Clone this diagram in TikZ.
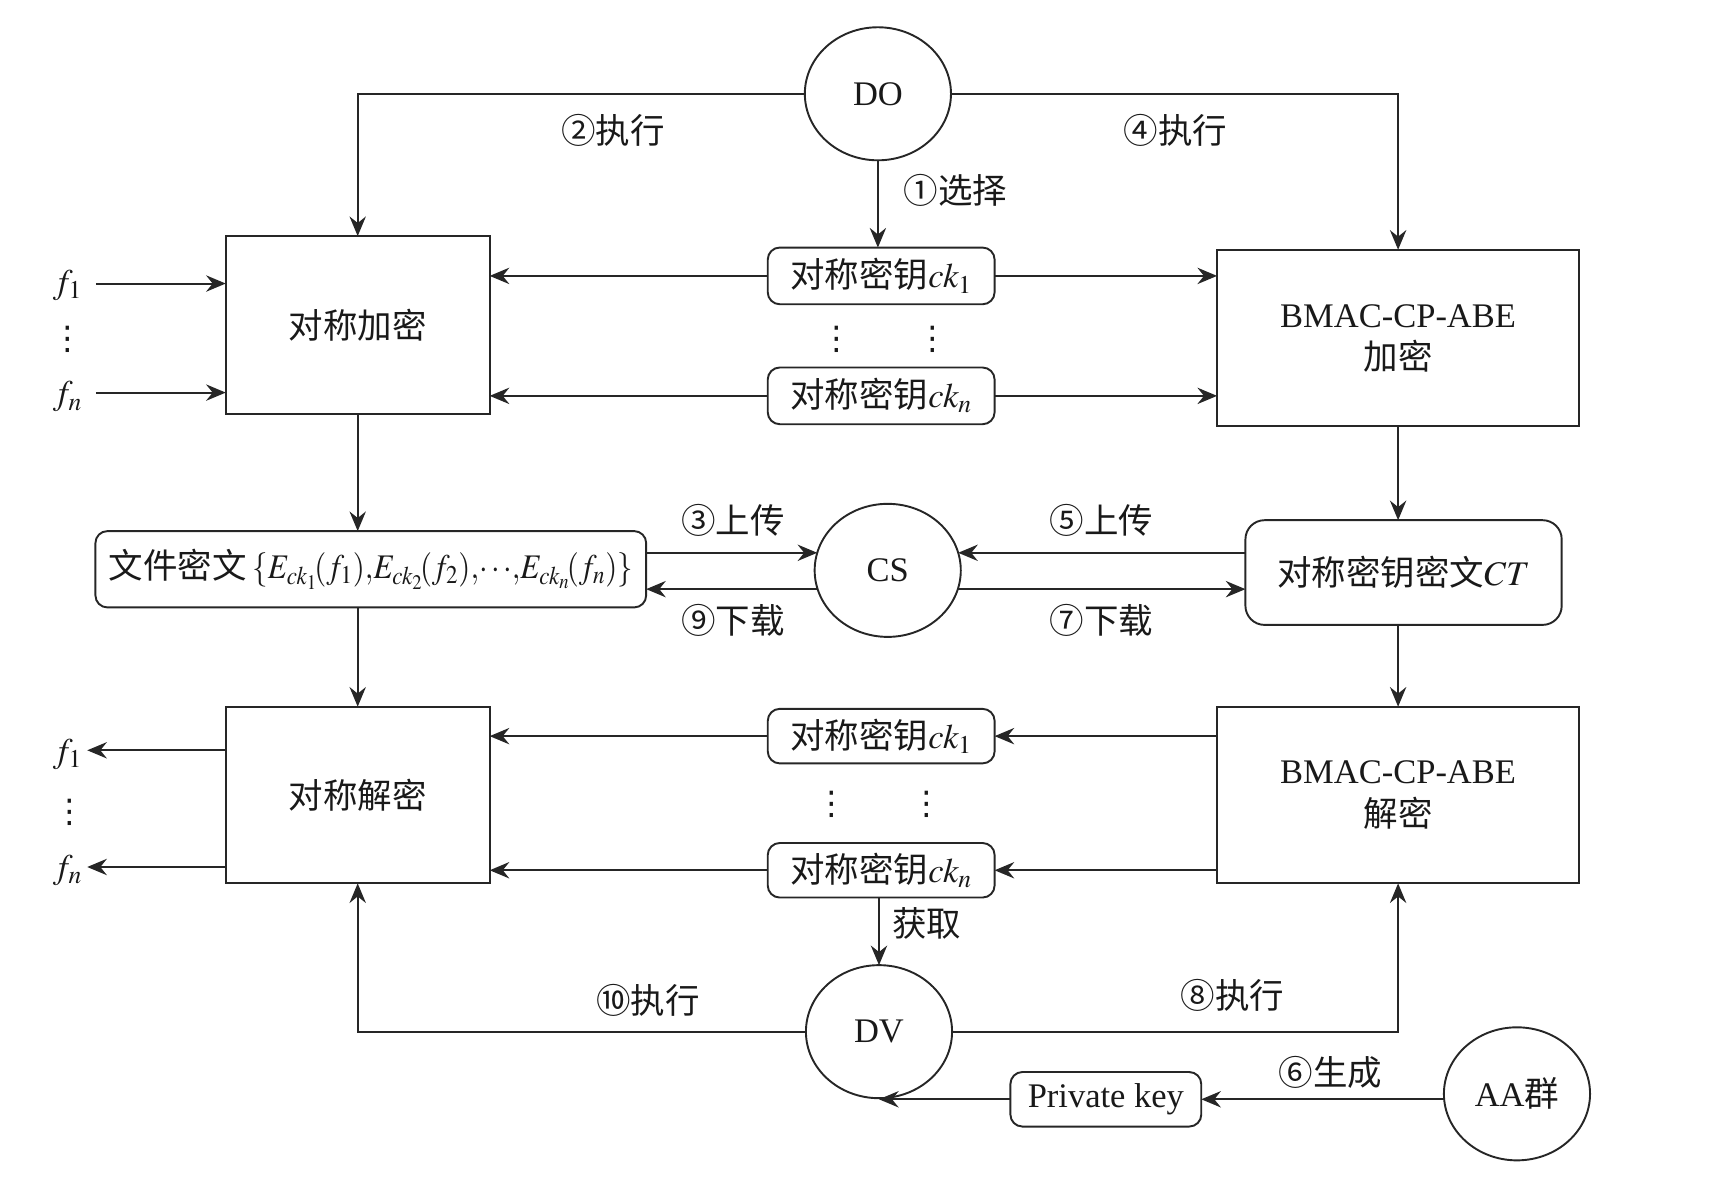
\documentclass[tikz,border=0pt]{standalone}
\usepackage{mathptmx}
\usepackage{graphicx}
\usepackage{fontspec}
\setmainfont{Liberation Serif}
\newfontfamily\cjk{Noto Sans CJK SC}
\newfontfamily\dejavu{DejaVu Sans}
\usetikzlibrary{arrows.meta,shapes.geometric,calc}
\begin{document}
\begin{tikzpicture}[x=0.2mm,y=-0.2mm,
  font=\fontsize{18}{22}\selectfont,
  every node/.style={text=black!90},
  conn/.style={draw=black!85, line width=1pt},
  arr/.style={conn, -{Stealth[length=3.6mm,width=3mm,inset=1.2mm]}},
  sqbox/.style={conn, rectangle, inner sep=0pt, outer sep=0pt},
  rbox/.style={conn, rectangle, rounded corners=2.2mm, inner sep=0pt, outer sep=0pt},
  ell/.style={conn, ellipse, minimum width=26.8mm, minimum height=24.4mm, inner sep=0pt, outer sep=0pt},
  lbl/.style={inner sep=0pt},
  dotlbl/.style={inner sep=0pt, font=\dejavu\fontsize{17}{17}\selectfont}]
\path[use as bounding box] (0,0) rectangle (1568,1080);

% circles
\node[ell] (DO) at (805,86) {DO};
\node[ell] (CS) at (814,523) {CS};
\node[ell] (DV) at (806,946) {DV};
\node[ell] (AA) at (1391,1003) {AA{\cjk 群}};

% boxes
\node[sqbox, minimum width=48.4mm, minimum height=32.6mm] (encL) at (328,298) {{\cjk 对称加密}};
\node[sqbox, minimum width=66.4mm, minimum height=32.4mm, align=center] (encR) at (1282,310) {BMAC-CP-ABE\\{\cjk 加密}};
\node[rbox, minimum width=41.6mm, minimum height=10.4mm] (ck1a) at (808,253) {{\cjk 对称密钥}$ck_1$};
\node[rbox, minimum width=41.6mm, minimum height=10.4mm] (ckna) at (808,363) {{\cjk 对称密钥}$ck_n$};
\node[rbox, minimum width=101mm, minimum height=14mm] (file) at (340,522) {{\cjk 文件密文}\,\scalebox{0.9}[1]{$\{E_{ck_1}\!(f_1){,}E_{ck_2}\!(f_2){,}\!\cdots\!{,}E_{ck_n}\!(f_n)\}$}};
\node[rbox, rounded corners=3.5mm, minimum width=58mm, minimum height=19.2mm] (CT) at (1287,525) {{\cjk 对称密钥密文}$CT$};
\node[sqbox, minimum width=48.4mm, minimum height=32.4mm] (decL) at (328,729) {{\cjk 对称解密}};
\node[sqbox, minimum width=66.4mm, minimum height=32.4mm, align=center] (decR) at (1282,729) {BMAC-CP-ABE\\{\cjk 解密}};
\node[rbox, minimum width=41.6mm, minimum height=10mm] (ck1b) at (808,675) {{\cjk 对称密钥}$ck_1$};
\node[rbox, minimum width=41.6mm, minimum height=10mm] (cknb) at (808,798) {{\cjk 对称密钥}$ck_n$};
\node[rbox, minimum width=35mm, minimum height=10mm] (pk) at (1014,1008) {Private key};

% labels
\node[lbl] (l1) at (876,175) {{\cjk ①选择}};
\node[lbl] (l2) at (562,120) {{\cjk ②执行}};
\node[lbl] (l4) at (1078,120) {{\cjk ④执行}};
\node[lbl] (l3) at (672,477) {{\cjk ③上传}};
\node[lbl] (l9) at (672,569) {{\cjk ⑨下载}};
\node[lbl] (l5) at (1010,477) {{\cjk ⑤上传}};
\node[lbl] (l7) at (1010,569) {{\cjk ⑦下载}};
\node[lbl] (lget) at (850,847) {{\cjk 获取}};
\node[lbl] (l10) at (594,917) {{\cjk ⑩执行}};
\node[lbl] (l8) at (1130,913) {{\cjk ⑧执行}};
\node[lbl] (l6) at (1220,983) {{\cjk ⑥生成}};

\node[lbl] (fi1) at (62,262) {$f_1$};
\node[dotlbl] (fid) at (62,311) {⋮};
\node[lbl] (fin) at (62,364) {$f_n$};
\node[lbl] (fo1) at (62,692) {$f_1$};
\node[dotlbl] (fod) at (64,745) {⋮};
\node[lbl] (fon) at (62,798) {$f_n$};
\node[dotlbl] (d1) at (767,311) {⋮};
\node[dotlbl] (d2) at (855,311) {⋮};
\node[dotlbl] (d3) at (763,738) {⋮};
\node[dotlbl] (d4) at (850,738) {⋮};

% connectors, top half
\draw[arr] (DO.west) -| (encL.north);
\draw[arr] (DO.east) -| (encR.north);
\draw[arr] (DO.south) -- (DO.south |- ck1a.north);
\coordinate (f1s) at (88,260);
\coordinate (fns) at (88,360);
\draw[arr] (f1s) -- (f1s -| encL.west);
\draw[arr] (fns) -- (fns -| encL.west);
\draw[arr] (ck1a.west) -- (ck1a.west -| encL.east);
\draw[arr] (ck1a.east) -- (ck1a.east -| encR.west);
\draw[arr] (ckna.west) -- (ckna.west -| encL.east);
\draw[arr] (ckna.east) -- (ckna.east -| encR.west);
\draw[arr] (encL.south) -- (encL.south |- file.north);
\draw[arr] (encR.south) -- (encR.south |- CT.north);

% middle
\draw[arr] (CS.166 -| file.east) -- (CS.166);
\draw[arr] (CS.195) -- (CS.195 -| file.east);
\draw[arr] (CS.14 -| CT.west) -- (CS.14);
\draw[arr] (CS.-15) -- (CS.-15 -| CT.west);
\draw[arr] (decL.north |- file.south) -- (decL.north);
\draw[arr] (decR.north |- CT.south) -- (decR.north);

% bottom half
\draw[arr] (ck1b.east -| decR.west) -- (ck1b.east);
\draw[arr] (ck1b.west) -- (ck1b.west -| decL.east);
\draw[arr] (cknb.east -| decR.west) -- (cknb.east);
\draw[arr] (cknb.west) -- (cknb.west -| decL.east);
\coordinate (o1) at (80,688);
\coordinate (on) at (80,795);
\draw[arr] (o1 -| decL.west) -- (o1);
\draw[arr] (on -| decL.west) -- (on);
\draw[arr] (cknb.south -| DV.north) -- (DV.north);
\draw[arr] (DV.west) -| (decL.south);
\draw[arr] (DV.east) -| (decR.south);
\draw[arr] (AA.west |- pk.east) -- (pk.east);
\draw[arr] (pk.west) -- (pk.west -| DV.south);
\end{tikzpicture}
\end{document}
